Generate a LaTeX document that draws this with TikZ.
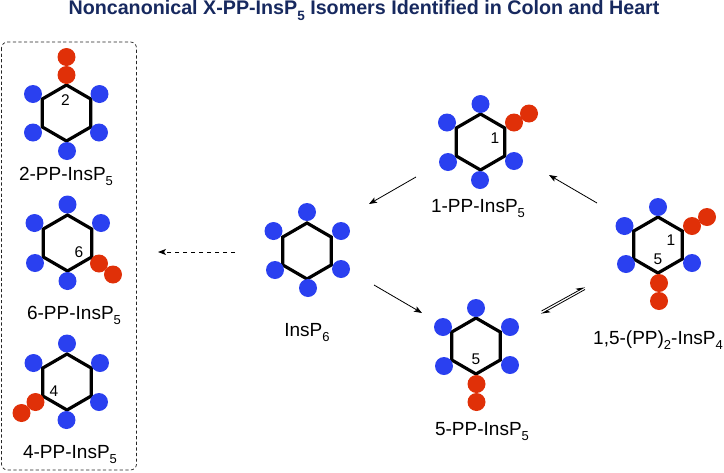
\documentclass[tikz,border=0pt]{standalone}
\usepackage{fontspec}
\setmainfont{Liberation Sans}
\usetikzlibrary{arrows.meta}
\definecolor{titlenavy}{HTML}{17295F}
\definecolor{pblue}{HTML}{2A40F0}
\definecolor{pred}{HTML}{E03008}
\newcommand{\lowsub}[2]{\raisebox{-0.28em}{\fontsize{#1}{#1}\selectfont #2}}
% Six-membered ring with its centre named #1
\newcommand{\inositol}[3]{%
  \coordinate (#1) at (#2,#3);
  \draw[ring] ([shift={(0,-28)}]#1) -- ([shift={(24.2,-14)}]#1) -- ([shift={(24.2,14)}]#1)
    -- ([shift={(0,28)}]#1) -- ([shift={(-24.2,14)}]#1) -- ([shift={(-24.2,-14)}]#1) -- cycle;
}
\newcommand{\nm}[1]{\lowsub{13}{#1}}
\tikzset{
  ring/.style={draw=black,line width=3.2pt,line join=miter},
  bball/.style={circle,fill=pblue,minimum size=18pt,inner sep=0pt},
  rball/.style={circle,fill=pred,minimum size=18pt,inner sep=0pt},
  locant/.style={font=\fontsize{15.5}{17}\selectfont,inner sep=0pt},
  molname/.style={font=\fontsize{19}{21}\selectfont,inner sep=0pt},
  rxn/.style={draw=black,line width=0.8pt,-{Stealth[length=8pt,width=6pt,inset=2pt]}},
  rxnh/.style={draw=black,line width=0.8pt,-{Stealth[length=8pt,width=6pt,inset=2pt,harpoon]}},
}
\begin{document}
\begin{tikzpicture}[x=1pt,y=-1pt]
\useasboundingbox (0,0) rectangle (724,472);
\node[font=\fontsize{19.7}{22}\selectfont\bfseries,text=titlenavy,inner sep=0pt] (title) at (364,10.5)
  {Noncanonical X-PP-InsP\lowsub{13.5}{5} Isomers Identified in Colon and Heart};
\draw[line width=0.7pt,dash pattern=on 3.2pt off 2.4pt,rounded corners=6pt,draw=black!85] (1.5,42) rectangle (136.5,470);

% 2-PP-InsP5
\inositol{mA}{66.5}{113}
\node[bball] (mAb1) at (33,94) {};
\node[bball] (mAb2) at (99.5,94) {};
\node[bball] (mAb3) at (33,132.5) {};
\node[bball] (mAb4) at (99,132.5) {};
\node[bball] (mAb5) at (67,151) {};
\node[rball] (mAr1) at (66.5,75) {};
\node[rball] (mAr2) at (66.5,57) {};
\node[locant] (mAn) at (65.5,100) {2};
\node[molname] (mAl) at (66,176.5) {2-PP-InsP\nm{5}};

% 6-PP-InsP5
\inositol{mB}{67.5}{243}
\node[bball] (mBb1) at (67.5,204.5) {};
\node[bball] (mBb2) at (34.5,223) {};
\node[bball] (mBb3) at (101,223) {};
\node[bball] (mBb4) at (35,263) {};
\node[bball] (mBb5) at (67.5,281) {};
\node[rball] (mBr1) at (99,263.5) {};
\node[rball] (mBr2) at (113,274.5) {};
\node[locant] (mBn) at (79,252) {6};
\node[molname] (mBl) at (74,315.5) {6-PP-InsP\nm{5}};

% 4-PP-InsP5
\inositol{mC}{67}{382}
\node[bball] (mCb1) at (67,343.5) {};
\node[bball] (mCb2) at (33.5,363) {};
\node[bball] (mCb3) at (100,363) {};
\node[bball] (mCb4) at (99,402) {};
\node[bball] (mCb5) at (66.5,420) {};
\node[rball] (mCr1) at (35.5,402) {};
\node[rball] (mCr2) at (21.5,413) {};
\node[locant] (mCn) at (54,391) {4};
\node[molname] (mCl) at (70,454.5) {4-PP-InsP\nm{5}};

% InsP6
\inositol{mD}{307}{251}
\node[bball] (mDb1) at (307,212) {};
\node[bball] (mDb2) at (273.5,231) {};
\node[bball] (mDb3) at (341,231) {};
\node[bball] (mDb4) at (275,270) {};
\node[bball] (mDb5) at (341,269) {};
\node[bball] (mDb6) at (308,288) {};
\node[molname] (mDl) at (307,332.5) {InsP\nm{6}};

% 1-PP-InsP5
\inositol{mE}{480.5}{142}
\node[bball] (mEb1) at (480.5,104) {};
\node[bball] (mEb2) at (447,122.5) {};
\node[bball] (mEb3) at (448,162) {};
\node[bball] (mEb4) at (514,161) {};
\node[bball] (mEb5) at (480,180) {};
\node[rball] (mEr1) at (514,122.5) {};
\node[rball] (mEr2) at (529,113.5) {};
\node[locant] (mEn) at (495,138) {1};
\node[molname] (mEl) at (478,208.5) {1-PP-InsP\nm{5}};

% 5-PP-InsP5
\inositol{mF}{476}{346}
\node[bball] (mFb1) at (476,308) {};
\node[bball] (mFb2) at (443,327) {};
\node[bball] (mFb3) at (510,327) {};
\node[bball] (mFb4) at (444,366) {};
\node[bball] (mFb5) at (510,365) {};
\node[rball] (mFr1) at (476.5,384) {};
\node[rball] (mFr2) at (476.5,402) {};
\node[locant] (mFn) at (476,359) {5};
\node[molname] (mFl) at (482,431.5) {5-PP-InsP\nm{5}};

% 1,5-(PP)2-InsP4
\inositol{mG}{658}{245}
\node[bball] (mGb1) at (658,207) {};
\node[bball] (mGb2) at (624.5,226) {};
\node[bball] (mGb3) at (626,264) {};
\node[bball] (mGb4) at (692,263) {};
\node[rball] (mGr1) at (692,226) {};
\node[rball] (mGr2) at (707,217) {};
\node[rball] (mGr3) at (659,283) {};
\node[rball] (mGr4) at (659,301) {};
\node[locant] (mGn1) at (671,240) {1};
\node[locant] (mGn5) at (658,259) {5};
\node[molname] (mGl) at (658,340) {1,5-(PP)\nm{2}-InsP\nm{4}};

% Reaction arrows
\coordinate (dashS) at (235,252);
\coordinate (dashE) at (158,252);
\coordinate (eDs) at (416,177);
\coordinate (eDe) at (369,204);
\coordinate (gEs) at (597,203);
\coordinate (gEe) at (549,175);
\coordinate (dFs) at (374,285);
\coordinate (dFe) at (422,313);
\coordinate (fGs) at (541.5,311);
\coordinate (fGe) at (585,287);
\coordinate (gFs) at (585,289.5);
\coordinate (gFe) at (541,314);
\draw[rxn,dash pattern=on 4.5pt off 3.5pt] (dashS) -- (dashE);
\draw[rxn] (eDs) -- (eDe);
\draw[rxn] (gEs) -- (gEe);
\draw[rxn] (dFs) -- (dFe);
\draw[rxnh] (fGs) -- (fGe);
\draw[rxnh] (gFs) -- (gFe);
\end{tikzpicture}
\end{document}
